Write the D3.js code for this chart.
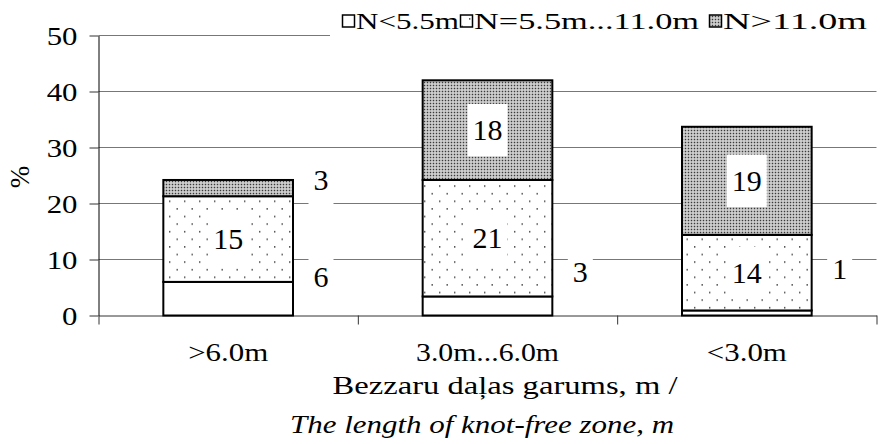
<!DOCTYPE html>
<html><head><meta charset="utf-8">
<script src="https://cdn.jsdelivr.net/npm/d3@7"></script>
</head><body style="margin:0;background:#fff">
<svg id="c" width="880" height="444" font-family="Liberation Serif"></svg>
<script>
// ---- data ----
const categories = [">6.0m", "3.0m...6.0m", "<3.0m"];
const seriesNames = ["N<5.5m", "N=5.5m...11.0m", "N>11.0m"];
const lowValues  = [6.0, 3.4, 0.9];    // N<5.5m
const midValues  = [15.3, 20.8, 13.5]; // N=5.5m...11.0m
const highValues = [2.9, 17.8, 19.3];  // N>11.0m
const yTicks = [0, 10, 20, 30, 40, 50];
const yTitle = "%";
const xTitle1 = "Bezzaru daļas garums, m /";
const xTitle2 = "The length of knot-free zone, m";

(function () {
const FONT = "Liberation Serif";
// ---- layout ----
const svg = d3.select("#c");
const pLeft = 98.5, pRight = 876.5, pBottom = 315.5, pTop = 35.5;
const y = d3.scaleLinear().domain([0, 50]).range([pBottom, pTop]);
const x = d3.scaleBand().domain(categories).range([pLeft, pRight]).paddingInner(0.5).paddingOuter(0.25);
const xb = d3.scaleLinear().domain([0, categories.length]).range([pLeft, pRight]);

// patterns
const defs = svg.append("defs");
const sp = defs.append("pattern").attr("id", "sparse").attr("patternUnits", "userSpaceOnUse")
  .attr("width", 15).attr("height", 15.2).attr("x", 1).attr("y", 0);
sp.append("rect").attr("width", 15).attr("height", 15.2).attr("fill", "#fff");
sp.append("rect").attr("x", 3).attr("y", 3).attr("width", 1.4).attr("height", 1.4).attr("fill", "#333");
sp.append("rect").attr("x", 10.5).attr("y", 10.6).attr("width", 1.4).attr("height", 1.4).attr("fill", "#333");
const dn = defs.append("pattern").attr("id", "dense").attr("patternUnits", "userSpaceOnUse")
  .attr("width", 3).attr("height", 3);
dn.append("rect").attr("width", 3).attr("height", 3).attr("fill", "#d6d6d6");
dn.append("rect").attr("x", 0.75).attr("y", 0.75).attr("width", 1.5).attr("height", 1.5).attr("fill", "#3a3a3a");

// gridlines
svg.append("g").selectAll("line").data(yTicks.filter(t => t > 0)).join("line")
  .attr("x1", pLeft).attr("x2", pRight)
  .attr("y1", d => y(d)).attr("y2", d => y(d))
  .attr("stroke", "#777").attr("stroke-width", 1);

// legend (white background hides the top gridline)
const legendFills = ["#fff", "url(#sparse)", "url(#dense)"];
const legendBoxX = [342, 460, 709];
const legendTextLen = [103, 225, 144];
const lg = svg.append("g");
lg.append("rect").attr("x", 330).attr("y", 0).attr("width", 550).attr("height", 37).attr("fill", "#fff");
seriesNames.forEach((n, i) => {
  lg.append("rect").attr("x", legendBoxX[i] + 0.5).attr("y", 15).attr("width", 12).attr("height", 12)
    .attr("fill", legendFills[i]).attr("stroke", "#000").attr("stroke-width", 1.5);
  lg.append("text").attr("x", legendBoxX[i] + 14).attr("y", 29).attr("font-family", FONT)
    .attr("font-size", 24).attr("textLength", legendTextLen[i]).attr("lengthAdjust", "spacingAndGlyphs")
    .text(n);
});

// axes
const ya = svg.append("g").attr("transform", `translate(${pLeft},0)`)
  .call(d3.axisLeft(y).tickValues(yTicks).tickSize(9).tickSizeOuter(0));
ya.attr("font-family", FONT);
ya.select(".domain").attr("stroke", "#000");
ya.selectAll(".tick line").attr("stroke", "#333");
ya.selectAll(".tick text")
  .attr("x", -21).attr("dy", "0.37em").attr("fill", "#000")
  .attr("font-size", 25).attr("font-family", FONT)
  .attr("textLength", d => 15.4 * String(d).length).attr("lengthAdjust", "spacingAndGlyphs");

const xa = svg.append("g").attr("transform", `translate(0,${pBottom})`)
  .call(d3.axisBottom(xb).tickValues(d3.range(categories.length + 1)).tickSize(9).tickSizeOuter(0).tickFormat(""));
xa.select(".domain").attr("stroke", "#333");
xa.selectAll(".tick line").attr("stroke", "#333");

// bars
const table = categories.map((c, i) => ({ cat: c, low: lowValues[i], mid: midValues[i], high: highValues[i] }));
const keys = ["low", "mid", "high"];
const stacked = d3.stack().keys(keys)(table);
const fills = { low: "#fff", mid: "url(#sparse)", high: "url(#dense)" };
svg.append("g").selectAll("g").data(stacked).join("g")
  .attr("fill", d => fills[d.key])
  .selectAll("rect").data(d => d).join("rect")
  .attr("x", d => x(d.data.cat)).attr("width", x.bandwidth())
  .attr("y", d => y(d[1])).attr("height", d => y(d[0]) - y(d[1]))
  .attr("stroke", "#000").attr("stroke-width", 2);

// value labels
const outsideAt = { "high-0": 24.15, "low-0": 7.0, "low-1": 7.8, "low-2": 8.3 };
const fs = 30;
const lblG = svg.append("g");
stacked.forEach(s => {
  s.forEach((d, i) => {
    const v = d[1] - d[0];
    const k = `${s.key}-${i}`;
    let cx, cy;
    if (outsideAt[k] !== undefined) {
      cx = x(d.data.cat) + x.bandwidth() + 28;
      cy = y(outsideAt[k]);
    } else {
      cx = x(d.data.cat) + x.bandwidth() / 2;
      cy = (y(d[0]) + y(d[1])) / 2;
    }
    const g = lblG.append("g").attr("transform", `translate(${cx},${cy})`);
    const r = g.append("rect").attr("fill", "#fff");
    const t = g.append("text").attr("text-anchor", "middle").attr("y", 0.34 * fs)
      .attr("font-family", FONT).attr("font-size", fs).text(Math.round(v));
    const w = t.node().getComputedTextLength();
    r.attr("x", -w / 2 - 5).attr("width", w + 10)
      .attr("y", -0.34 * fs - 16).attr("height", 0.68 * fs + 32);
  });
});

// category labels
const catLen = [80, 143, 80];
svg.append("g").selectAll("text").data(categories).join("text")
  .attr("x", d => x(d) + x.bandwidth() / 2).attr("y", 361)
  .attr("text-anchor", "middle").attr("font-family", FONT).attr("font-size", 26)
  .attr("textLength", (d, i) => catLen[i]).attr("lengthAdjust", "spacingAndGlyphs")
  .text(d => d);

// axis titles
svg.append("text").attr("x", 505).attr("y", 394).attr("text-anchor", "middle").attr("font-family", FONT)
  .attr("font-size", 26).attr("textLength", 345).attr("lengthAdjust", "spacingAndGlyphs").text(xTitle1);
svg.append("text").attr("x", 482).attr("y", 433).attr("text-anchor", "middle").attr("font-family", FONT)
  .attr("font-size", 26).attr("font-style", "italic")
  .attr("textLength", 384).attr("lengthAdjust", "spacingAndGlyphs").text(xTitle2);
svg.append("text").attr("transform", "translate(29,177) rotate(-90)").attr("text-anchor", "middle")
  .attr("font-family", FONT).attr("font-size", 27).text(yTitle);
})();
</script>
</body></html>
